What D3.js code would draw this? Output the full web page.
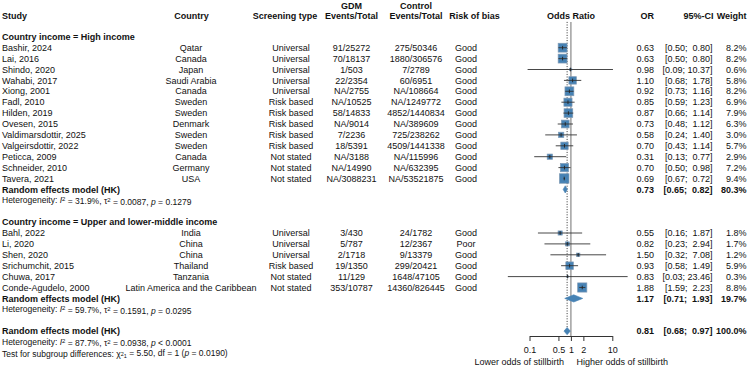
<!DOCTYPE html>
<meta charset="utf-8">
<style>
body { margin: 0; background: #fff; }
svg { font-family: "Liberation Sans", Arial, sans-serif; font-size: 9px; }
text { fill: #111; white-space: pre; }
.b { font-weight: bold; }
.het { font-size: 8.5px; }
</style>
<body>
<script src="https://cdn.jsdelivr.net/npm/d3@7"></script>
<script>
// study level data
var studies = ["Bashir, 2024", "Lai, 2016", "Shindo, 2020", "Wahabi, 2017", "Xiong, 2001", "Fadl, 2010",
    "Hilden, 2019", "Ovesen, 2015", "Valdimarsdottir, 2025", "Valgeirsdottir, 2022", "Peticca, 2009",
    "Schneider, 2010", "Tavera, 2021",
    "Bahl, 2022", "Li, 2020", "Shen, 2020", "Srichumchit, 2015", "Chuwa, 2017", "Conde-Agudelo, 2000"]
var countries = ["Qatar", "Canada", "Japan", "Saudi Arabia", "Canada", "Sweden", "Sweden", "Denmark",
    "Sweden", "Sweden", "Canada", "Germany", "USA",
    "India", "China", "China", "Thailand", "Tanzania", "Latin America and the Caribbean"]
var screening = ["Universal", "Universal", "Universal", "Universal", "Universal", "Risk based", "Risk based",
    "Risk based", "Risk based", "Risk based", "Not stated", "Not stated", "Not stated",
    "Universal", "Universal", "Universal", "Risk based", "Not stated", "Not stated"]
var gdm = ["91/25272", "70/18137", "1/503", "22/2354", "NA/2755", "NA/10525", "58/14833", "NA/9014",
    "7/2236", "18/5391", "NA/3188", "NA/14990", "NA/3088231",
    "3/430", "5/787", "2/1718", "19/1350", "11/129", "353/10787"]
var control = ["275/50346", "1880/306576", "7/2789", "60/6951", "NA/108664", "NA/1249772", "4852/1440834",
    "NA/389609", "725/238262", "4509/1441338", "NA/115996", "NA/632395", "NA/53521875",
    "24/1782", "12/2367", "9/13379", "299/20421", "1648/47105", "14360/826445"]
var bias = ["Good", "Good", "Good", "Good", "Good", "Good", "Good", "Good", "Good", "Good", "Good", "Good", "Good",
    "Good", "Poor", "Good", "Good", "Good", "Good"]
var orEst = [0.63, 0.63, 0.98, 1.10, 0.92, 0.85, 0.87, 0.73, 0.58, 0.70, 0.31, 0.70, 0.69,
    0.55, 0.82, 1.50, 0.93, 0.83, 1.88]
var orLow = [0.50, 0.50, 0.09, 0.68, 0.73, 0.59, 0.66, 0.48, 0.24, 0.43, 0.13, 0.50, 0.67,
    0.16, 0.23, 0.32, 0.58, 0.03, 1.59]
var orHigh = [0.80, 0.80, 10.37, 1.78, 1.16, 1.23, 1.14, 1.12, 1.40, 1.14, 0.77, 0.98, 0.72,
    1.87, 2.94, 7.08, 1.49, 23.46, 2.23]
var weights = [8.2, 8.2, 0.6, 5.8, 8.2, 6.9, 7.9, 6.3, 3.0, 5.7, 2.9, 7.2, 9.4,
    1.8, 1.7, 1.2, 5.9, 0.3, 8.8]
var groupOf = [0, 0, 0, 0, 0, 0, 0, 0, 0, 0, 0, 0, 0, 1, 1, 1, 1, 1, 1]

// subgroups and overall
var groupNames = ["Country income = High income", "Country income = Upper and lower-middle income"]
var reEst = [0.73, 1.17], reLow = [0.65, 0.71], reHigh = [0.82, 1.93], reWeight = [80.3, 19.7]
var hetI2 = ["31.9%", "59.7%"], hetTau2 = ["0.0087", "0.1591"], hetP = ["= 0.1279", "= 0.0295"]
var allEst = 0.81, allLow = 0.68, allHigh = 0.97, allWeight = 100.0
var allI2 = "87.7%", allTau2 = "0.0938", allP = "< 0.0001"
var testChi = "5.50", testDf = "1", testP = "0.0190"
var axisTicks = [0.1, 0.5, 1, 2, 10]

var width = 747, height = 368
var svg = d3.select("body").append("svg").attr("width", width).attr("height", height)

// rows: group header, studies, RE model, heterogeneity, blank ...
var rows = []
groupNames.forEach(function(g, gi) {
    rows.push({type: "group", label: g})
    studies.forEach(function(s, i) {
        if (groupOf[i] == gi) rows.push({type: "study", i: i})
    })
    rows.push({type: "re", est: reEst[gi], lo: reLow[gi], hi: reHigh[gi], w: reWeight[gi]})
    rows.push({type: "het", i2: hetI2[gi], tau2: hetTau2[gi], p: hetP[gi]})
    rows.push({type: "blank"})
})
rows.push({type: "re", est: allEst, lo: allLow, hi: allHigh, w: allWeight, overall: true})
rows.push({type: "het", i2: allI2, tau2: allTau2, p: allP})
rows.push({type: "test"})

var y = d3.scaleLinear().domain([0, rows.length - 1]).range([36.8, 352.9])
var x = d3.scaleLog().domain([0.1, 10]).range([529.5, 612.3])
var box = d3.scaleSqrt().domain([0, 9.4]).range([0, 9.5])
var f2 = d3.format(".2f"), f1 = d3.format(".1f")

function ci(lo, hi) {
    var h = f2(hi)
    if (h.length < 5) h = " " + h
    return "[" + f2(lo) + "; " + h + "]"
}

var col = {study: 2, country: 191, screen: 291, gdm: 351.5, ctrl: 416, rob: 466, or: 654, ci: 712.5, w: 746.5}

// headers
var hdr = svg.append("g").attr("class", "b")
function head(t, xx, yy, anchor) {
    hdr.append("text").attr("x", xx).attr("y", yy).attr("dy", "0.35em")
        .attr("text-anchor", anchor || "middle").text(t)
}
var hy = y(-2) + 0.5
head("Study", col.study, hy, "start")
head("Country", 191.5, hy)
head("Screening type", 285, hy)
head("GDM", col.gdm, y(-3) + 1.5)
head("Events/Total", col.gdm, hy)
head("Control", col.ctrl, y(-3) + 1.5)
head("Events/Total", col.ctrl, hy)
head("Risk of bias", 474.5, hy)
head("Odds Ratio", 571, hy)
head("OR", col.or, hy, "end")
head("95%-CI", 713.5, hy, "end")
head("Weight", col.w, hy, "end")

// reference lines
var plotTop = y(-1) - 4
svg.append("line").attr("x1", x(1)).attr("x2", x(1)).attr("y1", plotTop).attr("y2", 336)
    .attr("stroke", "#999").attr("stroke-width", 1.4)
svg.append("line").attr("x1", x(allEst)).attr("x2", x(allEst)).attr("y1", plotTop).attr("y2", y(rows.length - 3) - 3)
    .attr("stroke", "#333").attr("stroke-dasharray", "1,1.6")

function txt(g, t, xx, yy, anchor) {
    return g.append("text").attr("x", xx).attr("y", yy).attr("dy", "0.35em")
        .attr("text-anchor", anchor || "middle").text(t)
}

rows.forEach(function(r, ri) {
    var yy = y(ri)
    var g = svg.append("g")
    if (r.type == "group") {
        txt(g, r.label, col.study, yy, "start").attr("class", "b")
    } else if (r.type == "study") {
        var i = r.i
        txt(g, studies[i], col.study, yy, "start")
        txt(g, countries[i], col.country, yy)
        txt(g, screening[i], col.screen, yy)
        txt(g, gdm[i], col.gdm, yy)
        txt(g, control[i], col.ctrl, yy)
        txt(g, bias[i], col.rob, yy)
        txt(g, f2(orEst[i]), col.or, yy, "end")
        txt(g, ci(orLow[i], orHigh[i]), col.ci, yy, "end")
        txt(g, f1(weights[i]) + "%", col.w, yy, "end")
        var s = box(weights[i])
        g.append("rect").attr("x", x(orEst[i]) - s / 2).attr("y", yy - s / 2)
            .attr("width", s).attr("height", s)
            .attr("fill", "steelblue").attr("stroke", "#7f9ab5").attr("stroke-width", 0.7)
        g.append("line").attr("x1", x(orLow[i])).attr("x2", x(orHigh[i])).attr("y1", yy).attr("y2", yy)
            .attr("stroke", "#333").attr("stroke-width", 0.9)
        g.append("line").attr("x1", x(orEst[i])).attr("x2", x(orEst[i])).attr("y1", yy - 1.8).attr("y2", yy + 1.8)
            .attr("stroke", "#222").attr("stroke-width", 0.9)
    } else if (r.type == "re") {
        txt(g, "Random effects model (HK)", col.study, yy, "start").attr("class", "b")
        txt(g, f2(r.est), col.or, yy, "end").attr("class", "b")
        txt(g, ci(r.lo, r.hi), col.ci, yy, "end").attr("class", "b")
        txt(g, f1(r.w) + "%", col.w, yy, "end").attr("class", "b")
        var pts = [[x(r.lo), yy], [x(r.est), yy - 3.6], [x(r.hi), yy], [x(r.est), yy + 3.6]]
        g.append("polygon").attr("points", pts.join(" "))
            .attr("fill", "steelblue").attr("stroke", "steelblue").attr("stroke-width", 0.6)
    } else if (r.type == "het") {
        var t = txt(g, "", col.study, yy, "start").attr("class", "het")
        t.append("tspan").text("Heterogeneity: ")
        t.append("tspan").attr("font-style", "italic").text("I")
        t.append("tspan").attr("dy", "-0.3em").attr("font-size", "6px").text("2")
        t.append("tspan").attr("dy", "0.3em").text(" = " + r.i2 + ", τ")
        t.append("tspan").attr("dy", "-0.3em").attr("font-size", "6px").text("2")
        t.append("tspan").attr("dy", "0.3em").text(" = " + r.tau2 + ", ")
        t.append("tspan").attr("font-style", "italic").text("p")
        t.append("tspan").text(" " + r.p)
    } else if (r.type == "test") {
        var t2 = txt(g, "", col.study, yy + 1, "start").attr("class", "het")
        t2.append("tspan").text("Test for subgroup differences: χ")
        t2.append("tspan").attr("dy", "-0.22em").attr("font-size", "5.5px").text("2")
        t2.append("tspan").attr("dy", "0.5em").attr("font-size", "5.5px").text(testDf)
        t2.append("tspan").attr("dy", "-0.28em").text(" = " + testChi + ", df = " + testDf + " (")
        t2.append("tspan").attr("font-style", "italic").text("p")
        t2.append("tspan").text(" = " + testP + ")")
    }
})

// axis
var axis = svg.append("g").attr("transform", "translate(0,336)")
    .call(d3.axisBottom(x).tickValues(axisTicks).tickFormat(function(d) { return String(d) })
        .tickSize(5).tickSizeOuter(0).tickPadding(6))
axis.select(".domain").attr("stroke", "#333")
axis.selectAll(".tick line").attr("stroke", "#333")
axis.selectAll(".tick text").attr("font-size", "9px").attr("font-family", "Liberation Sans, Arial, sans-serif").attr("fill", "#111")

txt(svg, "Lower odds of stillbirth", 564, 361.5, "end")
txt(svg, "Higher odds of stillbirth", 576.5, 361.5, "start")
</script>
</body>
